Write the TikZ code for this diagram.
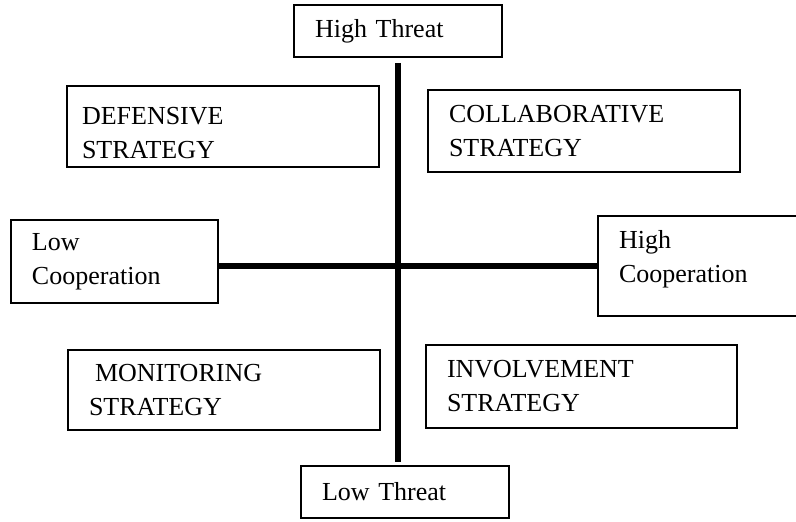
\documentclass[tikz,border=0pt]{standalone}
\usepackage{fontspec}
\setmainfont{Liberation Serif}
\usepackage{xcolor}
\usepackage{tikz}

\begin{document}
\begin{tikzpicture}[x=0.5pt, y=-0.5pt]
    \tikzstyle{quad} = [rectangle, draw=black, line width=0.8pt, inner xsep=10.5pt, inner ysep=0pt, align=left, font=\fontsize{13}{17}\selectfont]
    \tikzstyle{pole} = [quad, minimum height=26pt]
    \tikzstyle{axis} = [draw=black, line width=2.8pt]

    \useasboundingbox (0,0) rectangle (796,521);

    % Threat axis ends
    \node [pole, text width=83pt] (hithreat) at (398,31) {High Threat};
    \node [pole, text width=83pt] (lowthreat) at (405,492) {Low Threat};

    % Cooperation axis ends
    \node [quad, text width=82.5pt, minimum height=41.5pt] (lowcoop) at (114.5,261.5) {Low\\Cooperation};
    \node [quad, text width=80pt, minimum height=50pt] (hicoop) at (699,266) {High\\Cooperation\rule[-9.8pt]{0pt}{0pt}};

    % Strategy quadrants
    \node [quad, inner xsep=7.5pt, text width=141pt, minimum height=40.5pt] (defensive) at (223,126.5) {\rule{0pt}{15.6pt}DEFENSIVE\\STRATEGY};
    \node [quad, text width=135pt, minimum height=41pt] (collab) at (584,131) {COLLABORATIVE\\STRATEGY};
    \node [quad, text width=135pt, minimum height=40pt] (monitor) at (224,390) {\hspace{3pt}MONITORING\\STRATEGY};
    \node [quad, text width=134.5pt, minimum height=41.5pt] (involve) at (581.5,386.5) {INVOLVEMENT\\STRATEGY};

    % Axes
    \draw [axis, shorten <=2.5pt, shorten >=1.5pt] (hithreat.south) -- (hithreat.south |- lowthreat.north);
    \draw [axis] (lowcoop.east |- hicoop.west) -- (hicoop.west);
\end{tikzpicture}
\end{document}
